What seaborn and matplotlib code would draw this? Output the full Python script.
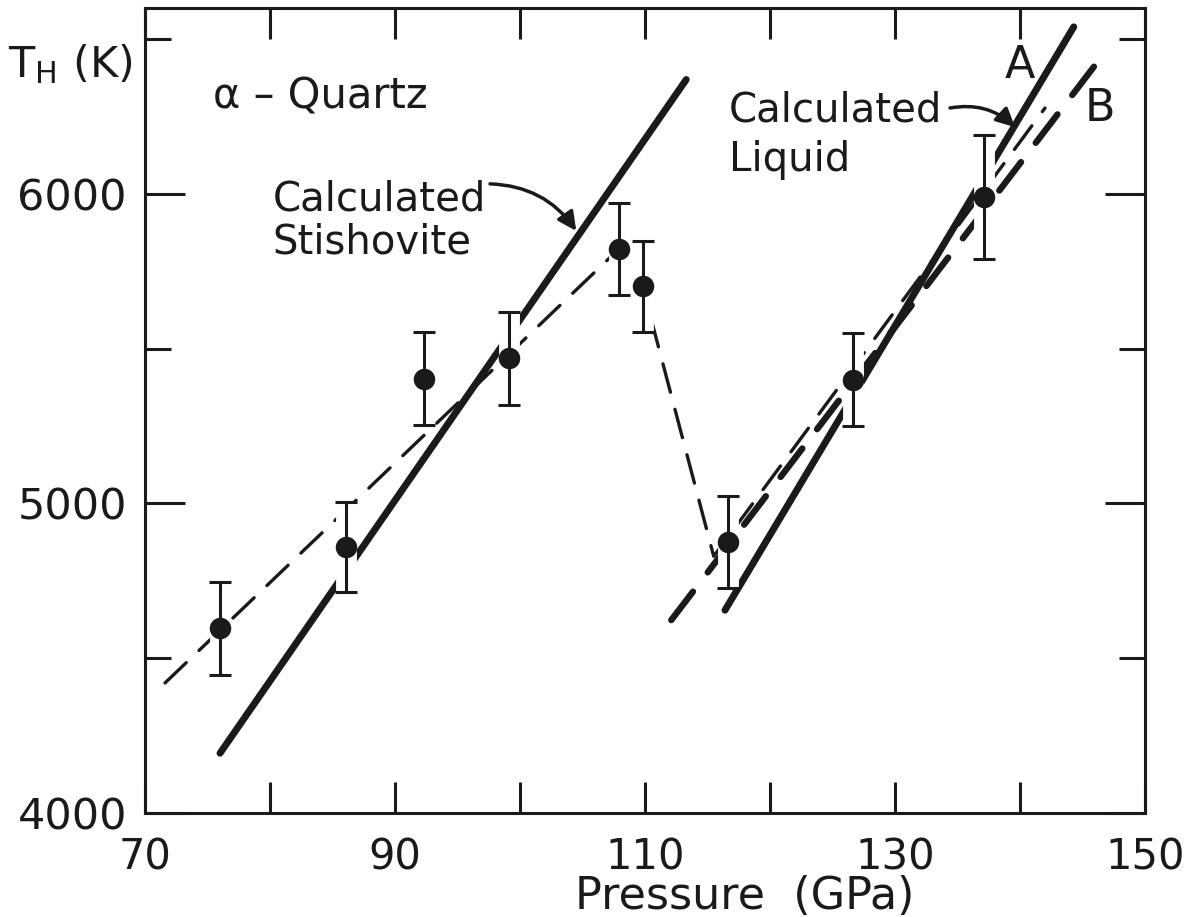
import matplotlib
matplotlib.use("Agg")
import matplotlib.pyplot as plt
from matplotlib import patheffects as pe
from matplotlib.ticker import FixedLocator, NullFormatter
import seaborn as sns

# ---- data ----
pressure = [76.0, 86.1, 92.35, 99.15, 107.9, 109.8, 116.6, 126.6, 137.1]
temperature = [4596, 4859, 5402, 5469, 5821, 5701, 4875, 5400, 5990]
t_error = [150, 145, 150, 150, 148, 146, 148, 150, 200]

trend_p = [71.6, 107.9, 109.8, 115.5, 142.0]
trend_t = [4420, 5821, 5701, 4829, 6277]

stish_p = [76.0, 113.3]
stish_t = [4193, 6369]

liqA_p = [116.4, 144.3]
liqA_t = [4655, 6539]

liqB_p = [112.1, 146.7]
liqB_t = [4623, 6452]

x_major = [70, 90, 110, 130, 150]
x_minor = [80, 100, 120, 140]
y_major = [4000, 5000, 6000]
y_minor = [4500, 5500, 6500]

sns.set_theme(style="ticks")
plt.rcParams['font.family'] = ['DejaVu Sans']
plt.rcParams['mathtext.fontset'] = 'dejavusans'

fig = plt.figure(figsize=(11.87, 9.17), dpi=100)
ax = fig.add_axes([145 / 1187, 1 - 813 / 917, 1000 / 1187, 805 / 917])

# thin dashed guide line through the data
sns.lineplot(x=trend_p, y=trend_t, color='k', lw=2.4, ax=ax, sort=False,
             estimator=None, zorder=2)
ln = ax.lines[-1]
ln.set_dashes([8.8, 5.3])
ln.set_dash_capstyle('round')

# calculated stishovite (solid thick)
sns.lineplot(x=stish_p, y=stish_t, color='k', lw=5, ax=ax, sort=False,
             estimator=None, zorder=2)
ax.lines[-1].set_solid_capstyle('round')

# calculated liquid A (solid thick)
sns.lineplot(x=liqA_p, y=liqA_t, color='k', lw=5, ax=ax, sort=False,
             estimator=None, zorder=2)
ax.lines[-1].set_solid_capstyle('round')

# calculated liquid B (long dashed thick)
sns.lineplot(x=liqB_p, y=liqB_t, color='k', lw=4.6, ax=ax, sort=False,
             estimator=None, zorder=2)
ln = ax.lines[-1]
ln.set_dashes([5.6, 3.8])
ln.set_dash_capstyle('round')

# error bars with white halo (lines are interrupted where they cross them)
eb = ax.errorbar(pressure, temperature, yerr=t_error, fmt='none', ecolor='k',
                 elinewidth=2.2, capsize=8, capthick=2.2, zorder=3)
for bl in eb[2]:
    bl.set_path_effects([pe.Stroke(linewidth=15, foreground='white'),
                         pe.Normal()])

sns.scatterplot(x=pressure, y=temperature, color='k', s=240, linewidth=0,
                ax=ax, zorder=4)

# axes
ax.set_xlim(70, 150)
ax.set_ylim(4000, 6600)
ax.xaxis.set_major_locator(FixedLocator(x_major))
ax.xaxis.set_minor_locator(FixedLocator(x_minor))
ax.yaxis.set_major_locator(FixedLocator(y_major))
ax.yaxis.set_minor_locator(FixedLocator(y_minor))
ax.xaxis.set_minor_formatter(NullFormatter())
ax.yaxis.set_minor_formatter(NullFormatter())

for sp in ax.spines.values():
    sp.set_visible(True)
    sp.set_linewidth(2.2)
    sp.set_color('k')

ax.tick_params(which='both', direction='in', top=True, right=True,
               width=2.2, color='k', labelcolor='k')
ax.tick_params(axis='x', which='both', length=22)
ax.tick_params(axis='y', which='major', length=29)
ax.tick_params(axis='y', which='minor', length=19)
ax.tick_params(axis='x', labelsize=30, pad=17)
ax.tick_params(axis='y', labelsize=31, pad=13)

ax.set_xlabel("Pressure  (GPa)", fontsize=32, color='k')
ax.xaxis.set_label_coords(0.60, -0.077)
ax.set_ylabel(r"T$_{\mathrm{H}}$ (K)", fontsize=31, rotation=0, color='k',
              ha='left', va='baseline')
ax.yaxis.set_label_coords(-0.137, 0.914)

# annotations
ax.text(75.4, 6277, "α – Quartz", fontsize=30, ha='left', va='baseline', color='k')
ax.text(80.2, 5945, "Calculated", fontsize=29, ha='left', va='baseline', color='k')
ax.text(80.2, 5806, "Stishovite", fontsize=29, ha='left', va='baseline', color='k')
ax.text(116.7, 6235, "Calculated", fontsize=29, ha='left', va='baseline', color='k')
ax.text(116.7, 6075, "Liquid", fontsize=29, ha='left', va='baseline', color='k')
ax.text(140.0, 6413, "A", fontsize=32, ha='center', va='center', color='k')
ax.text(146.4, 6277, "B", fontsize=32, ha='center', va='center', color='k')

ax.annotate("", xy=(104.5, 5880), xytext=(97.6, 6032),
            arrowprops=dict(arrowstyle='-|>', connectionstyle='arc3,rad=-0.25',
                            lw=2.5, color='k', mutation_scale=28,
                            shrinkA=0, shrinkB=0))
ax.annotate("", xy=(139.6, 6215), xytext=(134.4, 6277),
            arrowprops=dict(arrowstyle='-|>', connectionstyle='arc3,rad=-0.25',
                            lw=2.5, color='k', mutation_scale=28,
                            shrinkA=0, shrinkB=0))

fig.savefig("out.png", dpi=100)
